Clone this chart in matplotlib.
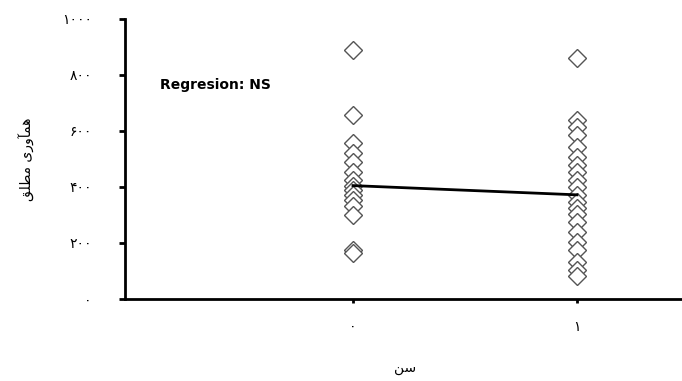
import matplotlib
matplotlib.use("Agg")
import matplotlib.pyplot as plt

# --- data ---
categories = [0, 1]
cat_labels = ["۰", "۱"]
group0 = [889, 657, 557, 521, 489, 454, 425, 404, 389, 371, 354, 332, 300, 175, 164]
group1 = [861, 639, 614, 586, 543, 507, 479, 454, 425, 400, 371, 346, 325, 304,
          275, 239, 204, 175, 132, 104, 82]
reg_x = [0, 1]
reg_y = [405, 372]
y_ticks = [0, 200, 400, 600, 800, 1000]
y_tick_labels = ["۰", "۲۰۰", "۴۰۰", "۶۰۰", "۸۰۰", "۱۰۰۰"]
# Persian labels written in visual order with Arabic presentation forms
x_label = "\uFEE6\uFEB3"  # سن
y_label = "\uFED6\uFEE0\uFEC4\uFEE3 \uFEEF\uFEAD\uFEED\uFE82\uFEE4\uFEEB"  # همآوری مطلق
annotation = "Regresion: NS"

plt.rcParams['font.family'] = ['DejaVu Sans']

W, H = 682, 381
fig = plt.figure(figsize=(W / 100, H / 100), dpi=100)
ax = fig.add_axes([125/W, (H-299)/H, 1 - 125/W, 280/H])

mk = dict(marker='D', linestyle='none', markersize=9.5, markerfacecolor='white',
          markeredgecolor='#555555', markeredgewidth=1.0)
ax.plot([categories[0]] * len(group0), group0, **mk)
ax.plot([categories[1]] * len(group1), group1, **mk)
ax.plot(reg_x, reg_y, color='black', linewidth=2)

ax.set_xlim(-1.018, 1.469)
ax.set_ylim(0, 1000)
ax.set_xticks(categories)
ax.set_xticklabels(cat_labels, fontsize=10)
ax.set_yticks(y_ticks)
ax.set_yticklabels(y_tick_labels, fontsize=10)

for s in ['top', 'right']:
    ax.spines[s].set_visible(False)
for s in ['left', 'bottom']:
    ax.spines[s].set_linewidth(2)
    ax.spines[s].set_color('black')
ax.tick_params(axis='y', direction='out', length=4, width=2, pad=20)
ax.tick_params(axis='x', direction='out', length=3, width=2, pad=12)

fig.text(405 / W, 1 - 368 / H, x_label, fontsize=10, ha='center', va='center')
fig.text(27 / W, 1 - 159 / H, y_label, fontsize=10, ha='center', va='center',
         rotation=90)

ax.text(0.063, 0.764, annotation, transform=ax.transAxes, fontsize=10,
        fontweight='bold', va='center', ha='left')

fig.savefig("out.png", dpi=100)
